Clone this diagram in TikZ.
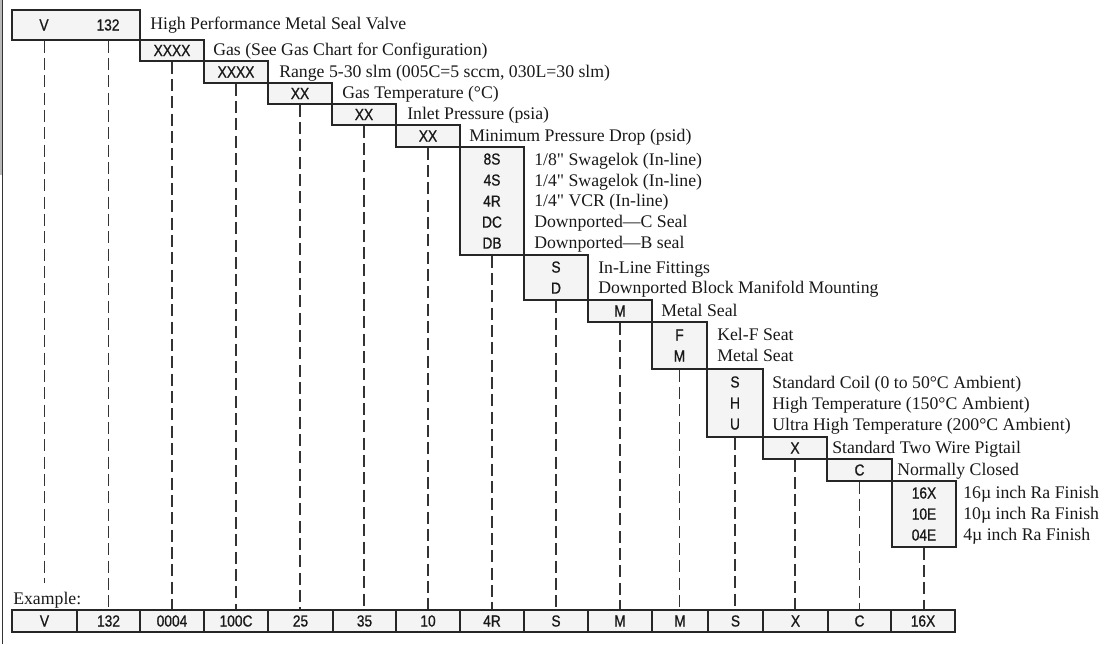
\documentclass[tikz,border=0pt]{standalone}
\usepackage{fontspec}
\newfontfamily\descfont{Liberation Serif}
\newfontfamily\codefont[FakeBold=0.8, FakeStretch=0.86]{Liberation Sans}
\usetikzlibrary{positioning}

\begin{document}
\begin{tikzpicture}[
    x=0.75pt, y=-0.75pt,
    codebox/.style={
        rectangle, draw=black!85, fill=gray!9,
        line width=0.95pt, inner sep=0pt,
        align=center, text=black!90,
        font=\codefont\fontsize{12}{15.75}\selectfont
    },
    excell/.style={codebox, minimum height=16.5pt},
    codetext/.style={inner sep=0pt, text=black!90,
        font=\codefont\fontsize{12}{15.75}\selectfont},
    desc/.style={
        anchor=base west, inner sep=0pt, text=black!90,
        font=\descfont\fontsize{13.3}{15.75}\selectfont
    },
    leader/.style={
        draw=black!80, line width=1.15pt,
        dash pattern=on 9pt off 4pt
    },
]
\useasboundingbox (0,0) rectangle (1107,644);

% left edge
\draw[gray!55, line width=2.2pt] (1.2,0) -- (1.2,175);
\draw[black!80, line width=0.8pt] (2.6,0) -- (2.6,644);

% CODE BOXES (staircase)
\node[codebox, minimum width=96pt, minimum height=22.5pt] (valve) at (76,25) {};
\node[codetext] (valve-v) at (44,25) {V};
\node[codetext] (valve-n) at (108,25) {132};
\node[desc] (valve-d) at (150,29) {High Performance Metal Seal Valve};

\node[codebox, minimum width=48pt, minimum height=15.75pt] (gas) at (172,50.5) {XXXX};
\node[desc] (gas-d) at (213,55.5) {Gas (See Gas Chart for Configuration)};

\node[codebox, minimum width=48pt, minimum height=16.5pt] (range) at (236,72) {XXXX};
\node[desc] (range-d) at (279,77) {Range 5-30 slm (005C=5 sccm, 030L=30 slm)};

\node[codebox, minimum width=48pt, minimum height=15.75pt] (gtemp) at (300,93.5) {XX};
\node[desc] (gtemp-d) at (342,98.5) {Gas Temperature (°C)};

\node[codebox, minimum width=48pt, minimum height=15.75pt] (inlet) at (364,114.5) {XX};
\node[desc] (inlet-d) at (407,119.5) {Inlet Pressure (psia)};

\node[codebox, minimum width=48pt, minimum height=16.5pt] (drop) at (428,136) {XX};
\node[desc] (drop-d) at (469,141) {Minimum Pressure Drop (psid)};

\node[codebox, minimum width=48pt, minimum height=81pt] (fitting) at (492,201) {8S\\4S\\4R\\DC\\DB};
\node[desc] (fitting-d1) at (534,165) {1/8\symbol{34} Swagelok (In-line)};
\node[desc] (fitting-d2) at (534,186) {1/4\symbol{34} Swagelok (In-line)};
\node[desc] (fitting-d3) at (534,206.5) {1/4\symbol{34} VCR (In-line)};
\node[desc] (fitting-d4) at (534,227) {Downported—C Seal};
\node[desc] (fitting-d5) at (534,248) {Downported—B seal};

\node[codebox, minimum width=48pt, minimum height=33.75pt] (mount) at (556,277.5) {S\\D};
\node[desc] (mount-d1) at (598,273) {In-Line Fittings};
\node[desc] (mount-d2) at (598,293.5) {Downported Block Manifold Mounting};

\node[codebox, minimum width=48pt, minimum height=16.5pt] (seal) at (620,311) {M};
\node[desc] (seal-d) at (661,316) {Metal Seal};

\node[codebox, minimum width=41.25pt, minimum height=35.25pt] (seat) at (679.5,345.5) {F\\M};
\node[desc] (seat-d1) at (717,340) {Kel-F Seat};
\node[desc] (seat-d2) at (717,361) {Metal Seat};

\node[codebox, minimum width=42pt, minimum height=51pt] (coil) at (735,403) {S\\H\\U};
\node[desc] (coil-d1) at (772,388.5) {Standard Coil (0 to 50°C Ambient)};
\node[desc] (coil-d2) at (772,409.5) {High Temperature (150°C Ambient)};
\node[desc] (coil-d3) at (772,430.5) {Ultra High Temperature (200°C Ambient)};

\node[codebox, minimum width=48pt, minimum height=16.5pt] (wire) at (795,448) {X};
\node[desc] (wire-d) at (832,453) {Standard Two Wire Pigtail};

\node[codebox, minimum width=48.75pt, minimum height=16.5pt] (normal) at (859.5,470) {C};
\node[desc] (normal-d) at (897,475) {Normally Closed};

\node[codebox, minimum width=48pt, minimum height=49.5pt] (finish) at (924,514) {16X\\10E\\04E};
\node[desc] (finish-d1) at (963,498.5) {16µ inch Ra Finish};
\node[desc] (finish-d2) at (963,519.5) {10µ inch Ra Finish};
\node[desc] (finish-d3) at (963,540.5) {4µ inch Ra Finish};

% EXAMPLE ROW
\node[desc] (example) at (13,604) {Example:};
\node[excell, minimum width=48.75pt] (ex1)  at (44.5,621)  {V};
\node[excell, minimum width=47.25pt] (ex2)  at (108.5,621) {132};
\node[excell, minimum width=48pt]    (ex3)  at (172,621)   {0004};
\node[excell, minimum width=48pt]    (ex4)  at (236,621)   {100C};
\node[excell, minimum width=48.75pt] (ex5)  at (300.5,621) {25};
\node[excell, minimum width=47.25pt] (ex6)  at (364.5,621) {35};
\node[excell, minimum width=48pt]    (ex7)  at (428,621)   {10};
\node[excell, minimum width=48pt]    (ex8)  at (492,621)   {4R};
\node[excell, minimum width=48pt]    (ex9)  at (556,621)   {S};
\node[excell, minimum width=48pt]    (ex10) at (620,621)   {M};
\node[excell, minimum width=42pt]    (ex11) at (680,621)   {M};
\node[excell, minimum width=41.25pt] (ex12) at (735.5,621) {S};
\node[excell, minimum width=48.75pt] (ex13) at (795.5,621) {X};
\node[excell, minimum width=47.25pt] (ex14) at (859.5,621) {C};
\node[excell, minimum width=48pt]    (ex15) at (923,621)   {16X};

% LEADER LINES
\coordinate (vend) at (44.5,583);
\draw[leader] (valve.south -| ex1.north) -- (vend);
\draw[leader] (valve.south -| ex2.north) -- (ex2.north);
\draw[leader] (gas.south) -- (ex3.north);
\draw[leader] (range.south) -- (ex4.north);
\draw[leader] (gtemp.south) -- (ex5.north -| gtemp.south);
\draw[leader] (inlet.south) -- (ex6.north -| inlet.south);
\draw[leader] (drop.south) -- (ex7.north);
\draw[leader] (fitting.south) -- (ex8.north);
\draw[leader] (mount.south) -- (ex9.north);
\draw[leader] (seal.south) -- (ex10.north);
\draw[leader] (seat.south) -- (ex11.north -| seat.south);
\draw[leader] (coil.south) -- (ex12.north -| coil.south);
\draw[leader] (wire.south) -- (ex13.north -| wire.south);
\draw[leader] (normal.south) -- (ex14.north);
\draw[leader] (finish.south) -- (ex15.north -| finish.south);

\end{tikzpicture}
\end{document}
